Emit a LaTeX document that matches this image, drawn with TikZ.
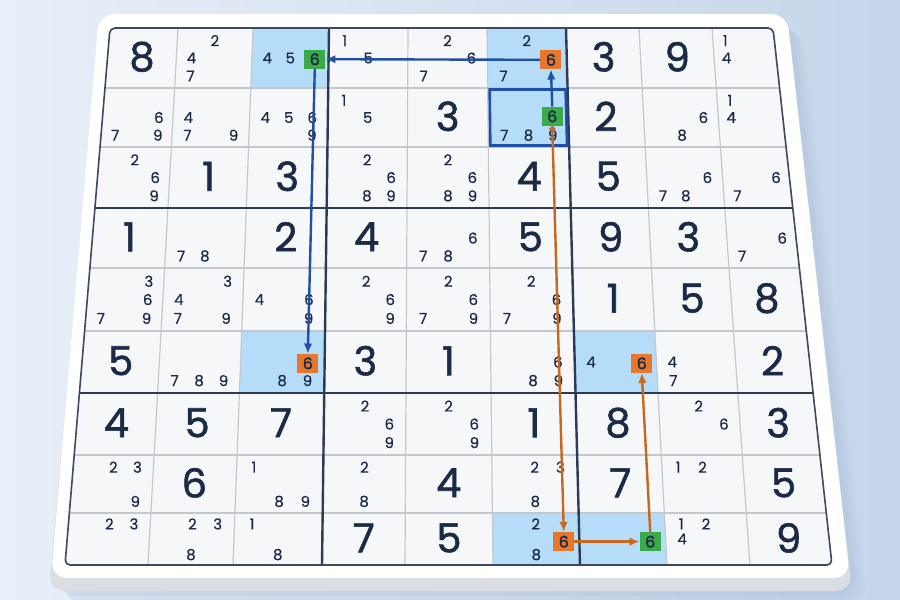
\documentclass[tikz,border=0pt]{standalone}
\usepackage{fontspec}
\setmainfont{Poppins}
\newfontfamily\bigfont{Poppins}[FakeBold=1.4]
\newfontfamily\candfont{Poppins}[FakeBold=0.4]
\usetikzlibrary{arrows.meta,calc}
\definecolor{navy}{HTML}{1B2A47}
\definecolor{gridfill}{HTML}{F6F7F9}
\definecolor{gline}{HTML}{C4C8CE}
\definecolor{tline}{HTML}{2D3B57}
\definecolor{hl}{HTML}{B5DCF8}
\definecolor{sixgreen}{HTML}{3BAA48}
\definecolor{sixorange}{HTML}{E8772A}
\definecolor{arrblue}{HTML}{1F4FA6}
\definecolor{arrorange}{HTML}{C8671E}
\definecolor{bgA}{HTML}{E8EFF8}
\definecolor{bgB}{HTML}{C5D5EA}
\definecolor{boardedge}{HTML}{D9DEE5}
\definecolor{shadowc}{HTML}{9FB3D0}
\def\RY{{28,88,147,208,268,331,393,455,513,565}}
\def\CT{{110,178,253,329,408,487,566,639,712,773}}
\def\CB{{65,148,233,322,405,493,580,667,750,832}}
\newcommand\gridpt[4]{%
 \pgfmathtruncatemacro\gia{#1-1}%
 \pgfmathtruncatemacro\gja{#3-1}%
 \pgfmathtruncatemacro\gib{#1}%
 \pgfmathtruncatemacro\gjb{#3}%
 \pgfmathsetmacro\gya{\RY[\gja]}%
 \pgfmathsetmacro\gyb{\RY[\gjb]}%
 \pgfmathsetmacro\gpy{\gya+#4*(\gyb-\gya)}%
 \pgfmathsetmacro\gt{(\gpy-28)/537}%
 \pgfmathsetmacro\gxa{\CT[\gia]*(1-\gt)+\CB[\gia]*\gt}%
 \pgfmathsetmacro\gxb{\CT[\gib]*(1-\gt)+\CB[\gib]*\gt}%
 \pgfmathsetmacro\gpx{\gxa+#2*(\gxb-\gxa)}%
}
\begin{document}
\begin{tikzpicture}[x=1pt,y=-1pt,
  bigdigit/.style={font=\bigfont\fontsize{40}{42}\selectfont, text=navy, inner sep=0pt},
  cand/.style={font=\candfont\fontsize{15}{16}\selectfont, text=navy, inner sep=0pt},
  sixbox/.style={text=navy, font=\bigfont\fontsize{16}{17}\selectfont, minimum width=21pt, minimum height=19pt, inner sep=0pt},
  sixg/.style={sixbox, fill=sixgreen},
  sixo/.style={sixbox, fill=sixorange},
  barrow/.style={draw=arrblue, line width=2.4pt, -{Latex[length=10pt,width=8.5pt]}},
  oarrow/.style={draw=arrorange, line width=2.4pt, -{Latex[length=10pt,width=8.5pt]}},
  gthinline/.style={draw=gline, line width=1.2pt},
  gthickline/.style={draw=tline, line width=2.4pt},
  hlcell/.style={fill=hl},
]
\useasboundingbox (0,0) rectangle (900,600);
% background
\shade[left color=bgA, right color=bgB] (0,0) rectangle (900,600);
% shadow
\foreach \o/\op in {16/0.10,11/0.12,6/0.15}{
  \fill[shadowc, opacity=\op, rounded corners=20] (99+\o,14+\o) -- (787+\o,14+\o) -- (851+\o,590+\o) -- (50+\o,590+\o) -- cycle;
}
% board thickness and top
\fill[boardedge, rounded corners=16] (99,24) -- (788,24) -- (852,591) -- (49,591) -- cycle;
\fill[white, rounded corners=16] (99,14) -- (787,14) -- (850,578) -- (51,578) -- cycle;
% grid coordinates
\foreach \i in {0,...,9}{
  \foreach \j in {0,...,9}{
    \pgfmathsetmacro\gyy{\RY[\j]}
    \pgfmathsetmacro\gtt{(\gyy-28)/537}
    \pgfmathsetmacro\gxx{\CT[\i]*(1-\gtt)+\CB[\i]*\gtt}
    \coordinate (g-\i-\j) at (\gxx,\gyy);
  }
}
% grid fill
\fill[gridfill, rounded corners=5] (g-0-0) -- (g-9-0) -- (g-9-9) -- (g-0-9) -- cycle;
% highlights
\fill[hlcell] (g-2-0) -- (g-3-0) -- (g-3-1) -- (g-2-1) -- cycle;
\fill[hlcell] (g-5-0) -- (g-6-0) -- (g-6-1) -- (g-5-1) -- cycle;
\fill[hlcell] (g-5-1) -- (g-6-1) -- (g-6-2) -- (g-5-2) -- cycle;
\fill[hlcell] (g-2-5) -- (g-3-5) -- (g-3-6) -- (g-2-6) -- cycle;
\fill[hlcell] (g-6-5) -- (g-7-5) -- (g-7-6) -- (g-6-6) -- cycle;
\fill[hlcell] (g-5-8) -- (g-6-8) -- (g-6-9) -- (g-5-9) -- cycle;
\fill[hlcell] (g-6-8) -- (g-7-8) -- (g-7-9) -- (g-6-9) -- cycle;
% thin lines
\foreach \k in {1,2,4,5,7,8}{
  \draw[gthinline] (g-\k-0) -- (g-\k-9);
  \draw[gthinline] (g-0-\k) -- (g-9-\k);
}
% thick lines
\foreach \k in {3,6}{
  \draw[gthickline] (g-\k-0) -- (g-\k-9);
  \draw[gthickline] (g-0-\k) -- (g-9-\k);
}
% border
\draw[draw=tline!80!gray, line width=1.6pt, rounded corners=5] (g-0-0) -- (g-9-0) -- (g-9-9) -- (g-0-9) -- cycle;
% focus frame r2c6
\draw[draw=arrblue, line width=2.6pt] ($(g-5-1)+(2,1.5)$) -- ($(g-6-1)+(-2,1.5)$) -- ($(g-6-2)+(-2,-1.5)$) -- ($(g-5-2)+(2,-1.5)$) -- cycle;
% given digits
\foreach \r/\c/\v in {1/1/8, 1/7/3, 1/8/9,
  2/5/3, 2/7/2,
  3/2/1, 3/3/3, 3/6/4, 3/7/5,
  4/1/1, 4/3/2, 4/4/4, 4/6/5, 4/7/9, 4/8/3,
  5/7/1, 5/8/5, 5/9/8,
  6/1/5, 6/4/3, 6/5/1, 6/9/2,
  7/1/4, 7/2/5, 7/3/7, 7/6/1, 7/7/8, 7/9/3,
  8/2/6, 8/5/4, 8/7/7, 8/9/5,
  9/4/7, 9/5/5, 9/9/9}{
  \gridpt{\c}{0.5}{\r}{0.48}
  \node[bigdigit] (b-\r-\c) at (\gpx,\gpy) {\v};
}
% candidates
\foreach \r/\c/\L in {1/2/{2,4,7}, 1/3/{4,5}, 1/4/{1,5}, 1/5/{2,6,7}, 1/6/{2,7}, 1/9/{1,4},
  2/1/{6,7,9}, 2/2/{4,7,9}, 2/3/{4,5,6,9}, 2/4/{1,5}, 2/6/{7,8,9}, 2/8/{6,8}, 2/9/{1,4},
  3/1/{2,6,9}, 3/4/{2,6,8,9}, 3/5/{2,6,8,9}, 3/8/{6,7,8}, 3/9/{6,7},
  4/2/{7,8}, 4/5/{6,7,8}, 4/9/{6,7},
  5/1/{3,6,7,9}, 5/2/{3,4,7,9}, 5/3/{4,6,9}, 5/4/{2,6,9}, 5/5/{2,6,7,9}, 5/6/{2,6,7,9},
  6/2/{7,8,9}, 6/3/{8,9}, 6/6/{6,8,9}, 6/7/{4}, 6/8/{4,7},
  7/4/{2,6,9}, 7/5/{2,6,9}, 7/8/{2,6},
  8/1/{2,3,9}, 8/3/{1,8,9}, 8/4/{2,8}, 8/6/{2,3,8}, 8/8/{1,2},
  9/1/{2,3}, 9/2/{2,3,8}, 9/3/{1,8}, 9/6/{2,8}, 9/8/{1,2,4}}{
  \foreach \d in \L {
    \pgfmathtruncatemacro\cx{mod(\d-1,3)}
    \pgfmathtruncatemacro\cy{floor((\d-1)/3)}
    \pgfmathsetmacro\fa{{0.2,0.5,0.8}[\cx]}
    \pgfmathsetmacro\fb{{0.21,0.5,0.8}[\cy]}
    \gridpt{\c}{\fa}{\r}{\fb}
    \node[cand] (n-\r-\c-\d) at (\gpx,\gpy) {\d};
  }
}
% special sixes
\gridpt{3}{0.82}{1}{0.52} \node[sixg] (six13) at (\gpx,\gpy) {6};
\gridpt{6}{0.8}{1}{0.53} \node[sixo] (six16) at (\gpx,\gpy) {6};
\gridpt{6}{0.8}{2}{0.48} \node[sixg] (six26) at (\gpx,\gpy) {6};
\gridpt{3}{0.8}{6}{0.52} \node[sixo] (six63) at (\gpx,\gpy) {6};
\gridpt{7}{0.82}{6}{0.52} \node[sixo] (six67) at (\gpx,\gpy) {6};
\gridpt{6}{0.82}{9}{0.55} \node[sixo] (six96) at (\gpx,\gpy) {6};
\gridpt{7}{0.82}{9}{0.55} \node[sixg] (six97) at (\gpx,\gpy) {6};
% arrows
\draw[barrow] (six16.west) -- (six13.east);
\draw[barrow] (six26.north) -- (six16.south);
\draw[barrow] (six13.south) -- (six63.north);
\draw[oarrow, {Circle[length=5.5pt]}-{Latex[length=10pt,width=8.5pt]}] (six26.south) -- (six96.north);
\draw[oarrow] (six96.east) -- (six97.west);
\draw[oarrow] (six97.north) -- (six67.south);
\end{tikzpicture}
\end{document}
